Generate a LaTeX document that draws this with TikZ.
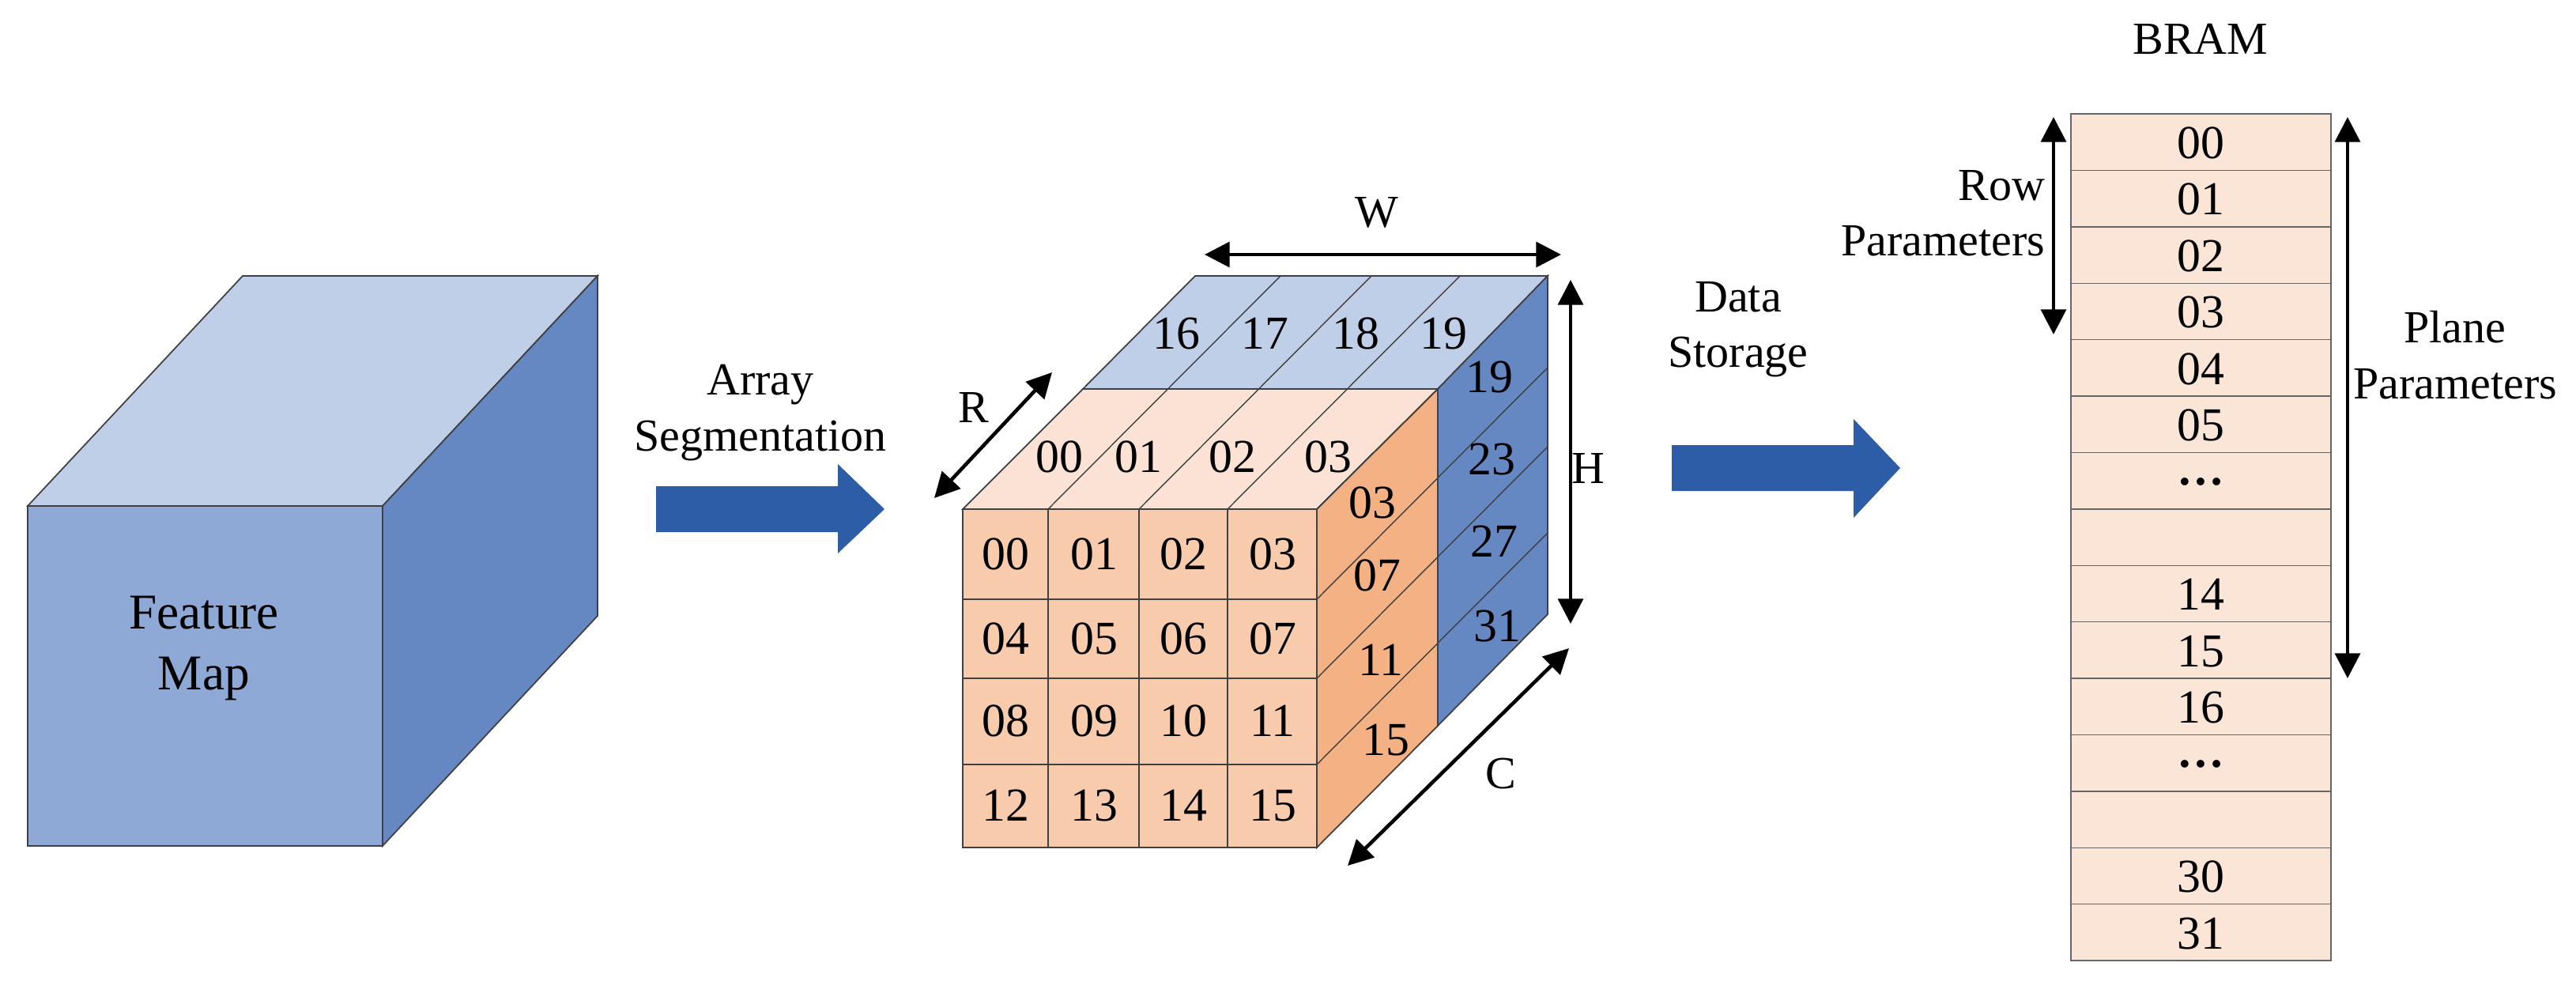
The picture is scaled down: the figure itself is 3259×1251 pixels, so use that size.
\documentclass[tikz,border=0pt]{standalone}
\usepackage{fontspec}
\setmainfont{Liberation Serif}
\usetikzlibrary{arrows.meta}
\definecolor{fmFront}{HTML}{8EA9D6}
\definecolor{fmTop}{HTML}{C0CFE8}
\definecolor{fmSide}{HTML}{6587C2}
\definecolor{orFront}{HTML}{F8CBAD}
\definecolor{orTop}{HTML}{FBE2D5}
\definecolor{orSide}{HTML}{F4B183}
\definecolor{arBlue}{HTML}{2E5DA8}
\definecolor{bram}{HTML}{FBE5D6}
\tikzset{
  face/.style={draw=black!75, line width=0.5pt},
  cell/.style={draw=black!75, line width=0.4pt},
  num/.style={font=\fontsize{17}{19}\selectfont, inner sep=0pt},
  lab/.style={font=\fontsize{16.5}{20}\selectfont, align=center, inner sep=0pt},
  dim/.style={line width=1.3pt, {Triangle[length=9pt,width=9pt]}-{Triangle[length=9pt,width=9pt]}},
  blk/.style={fill=arBlue, draw=none}
}
\begin{document}
\begin{tikzpicture}[x=0.01cm,y=-0.01cm]
\useasboundingbox (0,0) rectangle (3259,1251);
% Feature map
\fill[fmFront,face] (35,640) rectangle (484,1070);
\fill[fmTop,face] (35,640) -- (307,349) -- (756,349) -- (484,640) -- cycle;
\fill[fmSide,face] (484,640) -- (756,349) -- (756,779) -- (484,1070) -- cycle;
\node[lab,font=\fontsize{18}{22}\selectfont] (fm) at (258,820) {Feature\\Map};
% Array segmentation arrow
\fill[blk] (830,615) -- (1060,615) -- (1060,587) -- (1119,644) -- (1060,700) -- (1060,673) -- (830,673) -- cycle;
\node[lab] (as) at (962,522) {Array\\Segmentation};
% cube 2 faces
\fill[fmTop,face] (1370,492) -- (1512,349) -- (1958,349) -- (1819,492) -- cycle;
\fill[fmSide,face] (1819,492) -- (1958,349) -- (1958,777) -- (1819,918) -- cycle;
\fill[orTop,face] (1218,644) -- (1370,492) -- (1819,492) -- (1666,644) -- cycle;
\fill[orSide,face] (1666,644) -- (1819,492) -- (1819,918) -- (1666,1072) -- cycle;
\fill[orFront,face] (1218,644) rectangle (1666,1072);
% grid front
\foreach \x in {1326,1441,1553} \draw[cell] (\x,644) -- (\x,1072);
\foreach \y in {758,858,967} \draw[cell] (1218,\y) -- (1666,\y);
% top column lines
\foreach \x in {1326,1441,1553} \draw[cell] (\x,644) -- ++(294,-295);
\draw[cell] (1666,644) -- (1819,492);
% side row lines
\foreach \y in {758,858,967} \draw[cell] (1666,\y) -- ++(292,-293);
% front numbers
\foreach \r/\y in {0/701,1/808,2/912,3/1019}{
  \foreach \c/\x in {0/1272,1/1384,2/1497,3/1610}{
    \pgfmathtruncatemacro{\n}{\r*4+\c}
    \node[num] (f\r\c) at (\x,\y) {\ifnum\n<10 0\fi\n};
  }
}
\foreach \t/\x in {00/1340,01/1440,02/1559,03/1680} \node[num] (ot\t) at (\x,578) {\t};
\foreach \t/\x in {16/1488,17/1600,18/1715,19/1826} \node[num] (bt\t) at (\x,422) {\t};
\foreach \t/\x/\y in {03/1736/636,07/1742/728,11/1747/835,15/1753/936} \node[num] (os\t) at (\x,\y) {\t};
\foreach \t/\x/\y in {19/1884/477,23/1887/581,27/1890/685,31/1894/792} \node[num] (bs\t) at (\x,\y) {\t};
% dimension arrows
\coordinate (w1) at (1524,322); \coordinate (w2) at (1975,322);
\draw[dim] (w1) -- (w2);
\node[lab] (W) at (1742,269) {W};
\coordinate (h1) at (1987,354); \coordinate (h2) at (1987,789);
\draw[dim] (h1) -- (h2);
\node[lab] (H) at (2009,592) {H};
\coordinate (r1) at (1182,630); \coordinate (r2) at (1331,471);
\draw[dim] (r1) -- (r2);
\node[lab] (R) at (1232,515) {R};
\coordinate (c1) at (1705,1095); \coordinate (c2) at (1985,820);
\draw[dim] (c1) -- (c2);
\node[lab] (C) at (1899,979) {C};
% data storage arrow
\fill[blk] (2115,563) -- (2345,563) -- (2345,530) -- (2404,592) -- (2345,655) -- (2345,621) -- (2115,621) -- cycle;
\node[lab] (ds) at (2199,417) {Data\\Storage};
% BRAM
\node[lab] (bramlab) at (2784,49) {BRAM};
\foreach \i/\t in {0/00,1/01,2/02,3/03,4/04,5/05,6/{\textbf{\dots}},7/{},8/14,9/15,10/16,11/{\textbf{\dots}},12/{},13/30,14/31}{
  \pgfmathsetmacro{\ya}{144+71.4*\i}
  \draw[fill=bram,cell,draw=black!60] (2620,\ya) rectangle (2949,\ya+71.4);
  \node[num] (b\i) at (2784,\ya+37) {\t};
}
\coordinate (rp1) at (2598,148); \coordinate (rp2) at (2598,423);
\draw[dim] (rp1) -- (rp2);
\node[lab,align=right,anchor=east] (rp) at (2588,270) {Row\\Parameters};
\coordinate (pp1) at (2970,148); \coordinate (pp2) at (2970,858);
\draw[dim] (pp1) -- (pp2);
\node[lab] (pp) at (3106,449) {Plane\\Parameters};
\end{tikzpicture}
\end{document}
